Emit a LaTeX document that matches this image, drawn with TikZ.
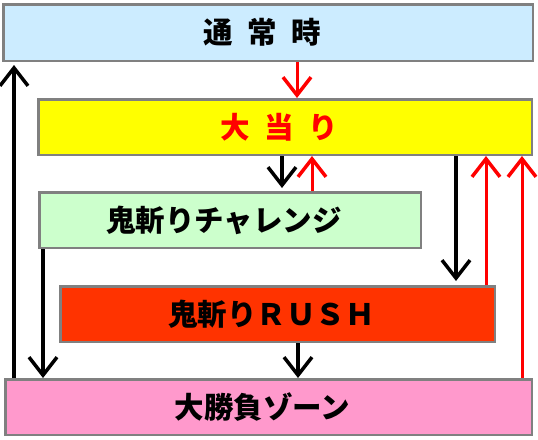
\documentclass[tikz,border=0pt]{standalone}
\usepackage{fontspec}
\setmainfont{Noto Sans CJK JP}
\usepackage{tikz}
\usetikzlibrary{arrows.meta}
\definecolor{flowBlue}{HTML}{CCECFF}
\definecolor{flowYellow}{HTML}{FFFF00}
\definecolor{flowGreen}{HTML}{CCFFCC}
\definecolor{flowOrange}{HTML}{FF3300}
\definecolor{flowPink}{HTML}{FF99CC}
\definecolor{flowGray}{HTML}{808080}
\definecolor{flowRed}{HTML}{FF0000}
\newcommand{\gap}{\hspace{0.5em}}
\begin{document}
\begin{tikzpicture}[x=1pt,y=-1pt,
  sbox/.style={draw=flowGray,line width=2.5pt,inner sep=0pt,
               font=\fontsize{29.5}{31}\selectfont\bfseries,
               execute at begin node=\hspace*{-12pt},
               minimum height=55.5pt},
  barr/.style={-{Straight Barb[length=18pt,width=28pt,line width=3.5pt]},line width=3.5pt,black},
  rarr/.style={-{Straight Barb[length=18pt,width=28pt,line width=3.5pt]},line width=3pt,flowRed}]
\useasboundingbox (0,0) rectangle (538,439);

%% States
\node[sbox,fill=flowBlue,minimum width=529.5pt,minimum height=56.5pt]
  (normal) at (268,32.5) {通\gap 常\gap 時};
\node[sbox,fill=flowYellow,text=flowRed,minimum width=493.5pt]
  (hit) at (285,127) {大\gap 当\gap り};
\node[sbox,fill=flowGreen,minimum width=381.5pt]
  (chal) at (230,220) {鬼斬りチャレンジ};
\node[sbox,fill=flowOrange,minimum width=434.5pt]
  (rush) at (277.5,314) {鬼斬りＲＵＳＨ};
\node[sbox,fill=flowPink,minimum width=526.5pt]
  (zone) at (268.5,407) {大勝負ゾーン};

%% Arrow columns
\coordinate (cA) at (14,0);
\coordinate (cB) at (43,0);
\coordinate (cC) at (282,0);
\coordinate (cD) at (297,0);
\coordinate (cE) at (298,0);
\coordinate (cF) at (312,0);
\coordinate (cG) at (456,0);
\coordinate (cH) at (486,0);
\coordinate (cI) at (522,0);

%% Transitions
\draw[rarr] (normal.south -| cD) -- (hit.north -| cD);
\draw[barr,shorten >=3pt] (hit.south -| cC) -- (chal.north -| cC);
\draw[rarr] (chal.north -| cF) -- (hit.south -| cF);
\draw[barr,shorten >=4pt] (hit.south -| cG) -- (rush.north -| cG);
\draw[rarr] (rush.north -| cH) -- (hit.south -| cH);
\draw[rarr] (zone.north -| cI) -- (hit.south -| cI);
\draw[barr] (chal.south -| cB) -- (zone.north -| cB);
\draw[barr] (rush.south -| cE) -- (zone.north -| cE);
\draw[barr,shorten >=3pt] (zone.north -| cA) -- (normal.south -| cA);
\end{tikzpicture}
\end{document}
